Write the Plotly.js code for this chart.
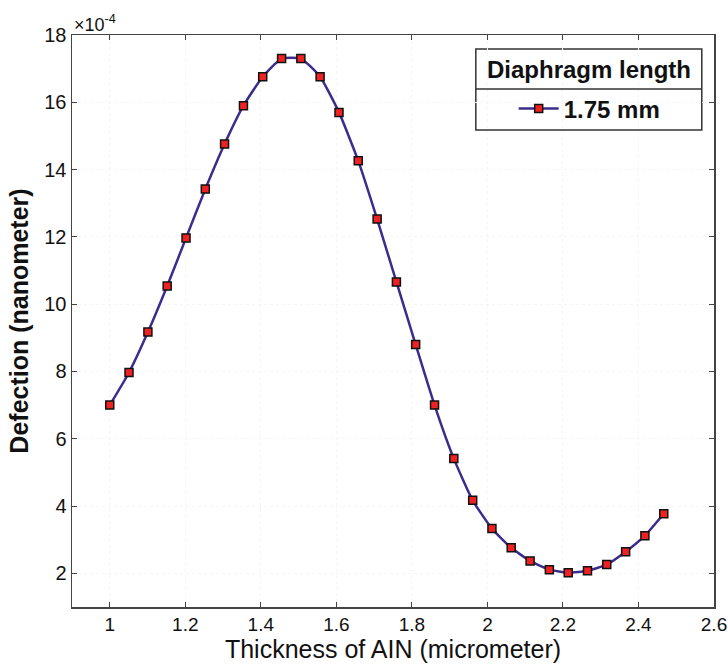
<!DOCTYPE html>
<html>
<head>
<meta charset="utf-8">
<script src="https://cdn.plot.ly/plotly-3.0.1.min.js"></script>
<style>html,body{margin:0;padding:0;background:#fff;}#chart{width:728px;height:669px;}</style>
</head>
<body>
<div id="chart"></div>
<script>
// Thickness of AlN (micrometer)
const thickness = [1.000, 1.051, 1.101, 1.152, 1.202, 1.253, 1.304, 1.354, 1.405, 1.455,
                   1.506, 1.557, 1.607, 1.658, 1.708, 1.759, 1.810, 1.860, 1.911, 1.961,
                   2.012, 2.063, 2.113, 2.164, 2.214, 2.265, 2.316, 2.366, 2.417, 2.467];
// Deflection, in units of 1e-4 nanometer
const deflection = [7.00, 7.97, 9.17, 10.54, 11.97, 13.42, 14.76, 15.90, 16.76, 17.30,
                    17.30, 16.76, 15.70, 14.26, 12.53, 10.66, 8.80, 7.00, 5.41, 4.17,
                    3.33, 2.76, 2.37, 2.11, 2.02, 2.08, 2.26, 2.64, 3.12, 3.77];
const yTicks = [2, 4, 6, 8, 10, 12, 14, 16, 18];
const xTicks = [1, 1.2, 1.4, 1.6, 1.8, 2, 2.2, 2.4, 2.6];
const seriesName = '1.75 mm';
const legendTitle = 'Diaphragm length';

const sans = '"Liberation Sans", Arial, sans-serif';

const trace = {
  x: thickness, y: deflection, type: 'scatter', mode: 'lines+markers',
  name: '<b>' + seriesName + '</b>',
  line: {color: '#3a2d8c', width: 2.5, shape: 'spline', smoothing: 0.5},
  marker: {symbol: 'square', size: 8, color: '#ee2222', line: {color: '#111', width: 1.5}}
};

const axisCommon = {
  showline: true, linecolor: '#444', linewidth: 1.5, mirror: 'ticks',
  ticks: 'inside', ticklen: 5, tickcolor: '#444', tickwidth: 1,
  showgrid: true, gridcolor: '#f5f5f5', griddash: 'dot', gridwidth: 1,
  zeroline: false
};

const layout = {
  width: 728, height: 669,
  margin: {l: 72, r: 14, t: 35, b: 62},
  paper_bgcolor: '#fff', plot_bgcolor: '#fff',
  xaxis: Object.assign({}, axisCommon, {
    range: [0.9, 2.6], tickvals: xTicks, ticktext: xTicks.map(String),
    tickfont: {family: sans, size: 19, color: '#111'},
    title: {text: 'Thickness of AIN (micrometer)', font: {family: sans, size: 25, color: '#111'}, standoff: 4}
  }),
  yaxis: Object.assign({}, axisCommon, {
    range: [1, 18], tickvals: yTicks, ticktext: yTicks.map(String),
    tickfont: {family: sans, size: 20, color: '#111'},
    title: {text: '<b>Defection (nanometer)</b>', font: {family: sans, size: 25, color: '#111'}, standoff: 8}
  }),
  showlegend: true,
  legend: {
    x: 0.688, xanchor: 'left', y: 0.8706, yanchor: 'middle',
    bgcolor: 'rgba(0,0,0,0)', borderwidth: 0,
    font: {family: sans, size: 24, color: '#111'},
    itemwidth: 40
  },
  shapes: [
    {type: 'rect', xref: 'paper', yref: 'paper', x0: 0.629, x1: 0.981, y0: 0.834, y1: 0.9755,
     fillcolor: '#fff', line: {color: '#333', width: 1.5}, layer: 'below'},
    {type: 'line', xref: 'paper', yref: 'paper', x0: 0.629, x1: 0.981, y0: 0.9056, y1: 0.9056,
     line: {color: '#333', width: 1.5}}
  ],
  annotations: [
    {xref: 'paper', yref: 'paper', x: 0.0, y: 1.0, xanchor: 'left', yanchor: 'bottom',
     text: '×10<sup>-4</sup>', showarrow: false,
     font: {family: sans, size: 18, color: '#111'}, yshift: -2},
    {xref: 'paper', yref: 'paper', x: 0.805, y: 0.9397, xanchor: 'center', yanchor: 'middle',
     text: '<b>' + legendTitle + '</b>', showarrow: false,
     font: {family: sans, size: 24, color: '#111'}}
  ]
};

Plotly.newPlot('chart', [trace], layout, {displayModeBar: false, staticPlot: true});
</script>
</body>
</html>
